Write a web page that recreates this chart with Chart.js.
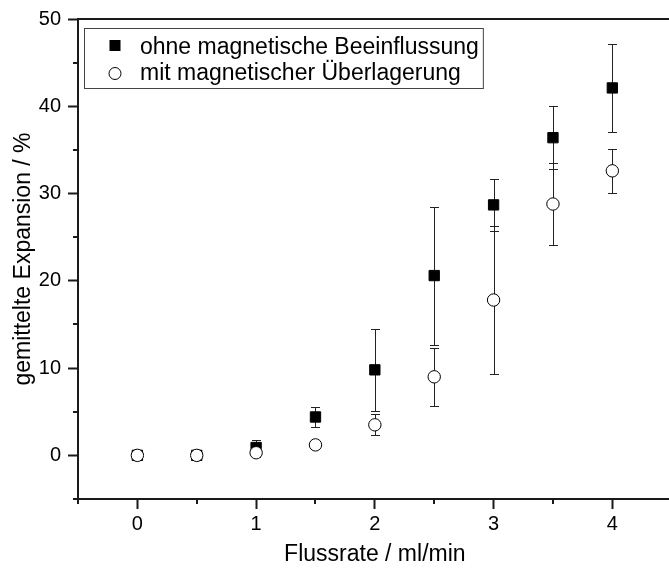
<!DOCTYPE html>
<html>
<head>
<meta charset="utf-8">
<script src="https://cdn.jsdelivr.net/npm/chart.js@4.4.0/dist/chart.umd.min.js"></script>
<style>
  html, body { margin: 0; padding: 0; background: #fff; overflow: hidden; }
  #wrap { width: 680px; height: 573px; }
</style>
</head>
<body>
<div id="wrap"><canvas id="expChart"></canvas></div>
<script>
// Flussrate in ml/min
var flowRates = [0, 0.5, 1, 1.5, 2, 2.5, 3, 3.5, 4];
// mittlere Expansion in %, mit Standardabweichung
var expansionWithout = [0, 0, 0.9, 4.4, 9.8, 20.6, 28.7, 36.4, 42.1];
var errorWithout = [0, 0, 0.9, 1.1, 4.7, 7.9, 3.0, 3.6, 5.0];
var expansionWith = [0, 0, 0.3, 1.2, 3.5, 9.0, 17.8, 28.8, 32.6];
var errorWith = [0, 0, 0.5, 0.3, 1.2, 3.3, 8.5, 4.7, 2.5];

var seriesLabels = ['ohne magnetische Beeinflussung', 'mit magnetischer Überlagerung'];
var xTitle = 'Flussrate / ml/min';
var yTitle = 'gemittelte Expansion / %';

var FONT = '"Liberation Sans", Arial, sans-serif';
var INK = '#1a1a1a';

function toPoints(ys) {
  return flowRates.map(function (x, i) { return { x: x, y: ys[i] }; });
}

// vertical error bars with caps, drawn under the markers
var errorBars = {
  id: 'errorBars',
  beforeDatasetsDraw: function (chart) {
    var ctx = chart.ctx, xs = chart.scales.x, ys = chart.scales.y;
    var sets = [[expansionWithout, errorWithout], [expansionWith, errorWith]];
    ctx.save();
    ctx.strokeStyle = '#222';
    ctx.lineWidth = 1;
    sets.forEach(function (s) {
      flowRates.forEach(function (fx, i) {
        var err = s[1][i];
        if (!err) return;
        var px = Math.round(xs.getPixelForValue(fx)) + 0.5;
        var top = Math.round(ys.getPixelForValue(s[0][i] + err)) + 0.5;
        var bot = Math.round(ys.getPixelForValue(s[0][i] - err)) + 0.5;
        ctx.beginPath();
        ctx.moveTo(px, top); ctx.lineTo(px, bot);
        ctx.moveTo(px - 4.5, top); ctx.lineTo(px + 4.5, top);
        ctx.moveTo(px - 4.5, bot); ctx.lineTo(px + 4.5, bot);
        ctx.stroke();
      });
    });
    ctx.restore();
  }
};

// top frame line and short minor ticks
var frame = {
  id: 'frame',
  afterDraw: function (chart) {
    var ctx = chart.ctx, a = chart.chartArea, xs = chart.scales.x, ys = chart.scales.y;
    ctx.save();
    ctx.strokeStyle = INK;
    ctx.lineWidth = 2;
    ctx.beginPath();
    ctx.moveTo(a.left - 1, a.top);
    ctx.lineTo(a.right, a.top);
    ys.ticks.forEach(function (t) {
      if (t.value % 10 === 0) return;
      var py = Math.round(ys.getPixelForValue(t.value));
      ctx.moveTo(a.left - 5, py);
      ctx.lineTo(a.left, py);
    });
    xs.ticks.forEach(function (t) {
      if (t.value % 1 === 0) return;
      var px = Math.round(xs.getPixelForValue(t.value));
      ctx.moveTo(px, a.bottom);
      ctx.lineTo(px, a.bottom + 5);
    });
    ctx.stroke();
    ctx.restore();
  }
};

// boxed legend in the upper left corner of the plot
var legendBox = {
  id: 'legendBox',
  afterDraw: function (chart) {
    var ctx = chart.ctx, a = chart.chartArea;
    var bx = a.left + 6.5, by = a.top + 9.5;
    ctx.save();
    ctx.font = '23px ' + FONT;
    var w = Math.max(ctx.measureText(seriesLabels[0]).width, ctx.measureText(seriesLabels[1]).width);
    ctx.strokeStyle = '#444';
    ctx.lineWidth = 1;
    ctx.strokeRect(bx, by, 60 + w, 60);
    var mx = a.left + 37;
    // filled square
    ctx.fillStyle = '#000';
    ctx.fillRect(mx - 5.5, a.top + 21, 11, 11);
    // open circle
    ctx.beginPath();
    ctx.arc(mx, a.top + 54.5, 6, 0, Math.PI * 2);
    ctx.fillStyle = '#fff';
    ctx.fill();
    ctx.strokeStyle = '#000';
    ctx.stroke();
    ctx.fillStyle = '#000';
    ctx.textBaseline = 'alphabetic';
    ctx.fillText(seriesLabels[0], a.left + 62, a.top + 35);
    ctx.fillText(seriesLabels[1], a.left + 62, a.top + 61);
    ctx.restore();
  }
};

new Chart(document.getElementById('expChart'), {
  type: 'scatter',
  data: {
    datasets: [
      {
        label: seriesLabels[0],
        data: toPoints(expansionWithout),
        pointStyle: 'rect',
        pointRadius: 7.3,
        backgroundColor: '#000',
        borderColor: '#000',
        borderWidth: 1,
        order: 2
      },
      {
        label: seriesLabels[1],
        data: toPoints(expansionWith),
        pointStyle: 'circle',
        pointRadius: 6.2,
        backgroundColor: '#fff',
        borderColor: '#000',
        borderWidth: 1,
        order: 1
      }
    ]
  },
  options: {
    responsive: true,
    maintainAspectRatio: false,
    animation: false,
    events: [],
    layout: { padding: { top: 19, right: 4, left: 0, bottom: 0 } },
    plugins: {
      legend: { display: false },
      tooltip: { enabled: false }
    },
    scales: {
      x: {
        type: 'linear',
        min: -0.5,
        max: 4.5,
        afterFit: function (s) { s.height = 74; },
        ticks: {
          stepSize: 0.5,
          autoSkip: false,
          maxRotation: 0,
          padding: 3,
          color: '#000',
          font: { family: FONT, size: 20 },
          callback: function (v) { return v % 1 === 0 ? String(v) : ''; }
        },
        grid: {
          drawOnChartArea: false,
          tickLength: 10,
          tickWidth: 2,
          tickColor: function (c) { return c.tick && c.tick.value % 1 === 0 ? INK : 'rgba(0,0,0,0)'; }
        },
        border: { color: INK, width: 2 },
        title: {
          display: true,
          text: xTitle,
          color: '#000',
          font: { family: FONT, size: 23 },
          padding: { top: 0, bottom: 5 }
        }
      },
      y: {
        min: -5,
        max: 50,
        afterFit: function (s) { s.width = 78; },
        ticks: {
          stepSize: 5,
          autoSkip: false,
          padding: 7,
          color: '#000',
          font: { family: FONT, size: 20 },
          callback: function (v) { return v % 10 === 0 ? String(v) : ''; }
        },
        grid: {
          drawOnChartArea: false,
          tickLength: 10,
          tickWidth: 2,
          tickColor: function (c) { return c.tick && c.tick.value % 10 === 0 ? INK : 'rgba(0,0,0,0)'; }
        },
        border: { color: INK, width: 2 },
        title: {
          display: true,
          text: yTitle,
          color: '#000',
          font: { family: FONT, size: 23 },
          padding: { top: 10, bottom: 0 }
        }
      }
    }
  },
  plugins: [errorBars, frame, legendBox]
});
</script>
</body>
</html>
